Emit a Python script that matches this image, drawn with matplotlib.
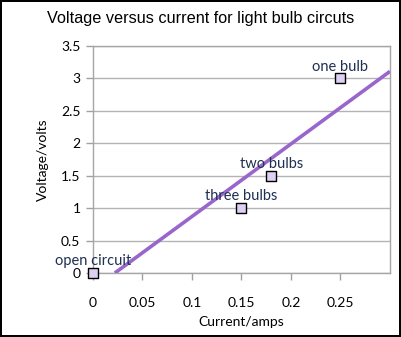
import numpy as np
import matplotlib.pyplot as plt

# Circuit measurements
current = [0, 0.15, 0.18, 0.25]
voltage = [0, 1, 1.5, 3]
labels = ['open circuit', 'three bulbs', 'two bulbs', 'one bulb']

x_ticks = [0, 0.05, 0.1, 0.15, 0.2, 0.25]
x_tick_labels = ['0', '0.05', '0.1', '0.15', '0.2', '0.25']
y_ticks = [0, 0.5, 1, 1.5, 2, 2.5, 3, 3.5]
y_tick_labels = ['0', '0.5', '1', '1.5', '2', '2.5', '3', '3.5']

plt.rcParams['font.family'] = ['Lato', 'DejaVu Sans']

fig = plt.figure(figsize=(4.01, 3.37), dpi=100, linewidth=1.5, edgecolor='black')
ax = fig.add_axes([0.2319, 0.1899, 0.7406, 0.6736])

# linear trendline through the points
slope, intercept = np.polyfit(current, voltage, 1)
x0 = -intercept / slope
xs = np.array([x0, 0.3])
ax.plot(xs, slope * xs + intercept, color='#9966cc', linewidth=2.6, zorder=3,
        solid_capstyle='butt')

ax.scatter(current, voltage, marker='s', s=55, facecolor='#ddd0f2',
           edgecolor='black', linewidth=1.0, zorder=4, clip_on=False)

for x, y, t in zip(current, voltage, labels):
    ax.annotate(t, (x, y), xytext=(0, 3.5), textcoords='offset points',
                ha='center', va='bottom', fontsize=10.5, color='#1f3050')

ax.set_xlim(0, 0.3)
ax.set_ylim(0, 3.5)
ax.set_xticks(x_ticks)
ax.set_xticklabels(x_tick_labels)
ax.set_yticks(y_ticks)
ax.set_yticklabels(y_tick_labels)
ax.tick_params(axis='both', labelsize=10, colors='#a0a0a0', labelcolor='black',
               length=5, width=1)
ax.tick_params(axis='x', pad=12)
ax.tick_params(axis='y', pad=4)

ax.grid(axis='y', color='#b3b3b3', linewidth=1)
ax.set_axisbelow(True)
for side in ['left', 'bottom', 'top', 'right']:
    ax.spines[side].set_color('#a6a6a6')
    ax.spines[side].set_linewidth(1)

ax.set_xlabel('Current/amps', fontsize=10, labelpad=5)
ax.set_ylabel('Voltage/volts', fontsize=10, labelpad=9)
fig.text(0.5, 0.945, 'Voltage versus current for light bulb circuts',
         ha='center', va='center', fontsize=11.7, family='Liberation Sans')

fig.savefig('out.png', dpi=100)
